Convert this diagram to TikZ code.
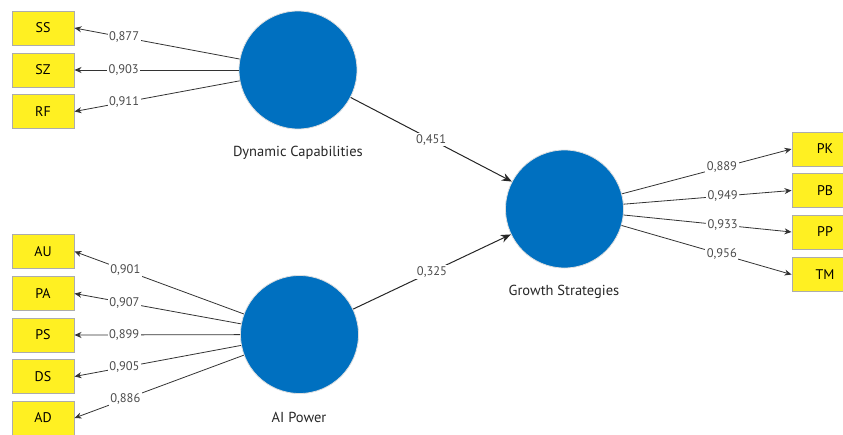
\documentclass[tikz,border=0pt]{standalone}
\usepackage{fontspec}
\setmainfont{PT Sans}
\usetikzlibrary{arrows.meta}
\definecolor{lvblue}{HTML}{0070C0}
\definecolor{indyellow}{HTML}{FFF022}
\begin{document}
\begin{tikzpicture}[x=1pt,y=-1pt,
  latent/.style={circle,fill=lvblue,draw=gray!25,line width=0.8pt,minimum size=118pt,inner sep=0pt},
  indbox/.style={rectangle,fill=indyellow,draw=gray!65,line width=1pt,minimum width=62pt,minimum height=34pt,inner sep=0pt,font=\fontsize{14}{16}\selectfont},
  rindbox/.style={indbox,minimum width=66pt},
  loadarrow/.style={draw=black!80,line width=0.8pt,-{Stealth[length=7pt,width=6pt]}},
  structarrow/.style={draw=black!85,line width=1pt,-{Stealth[length=10pt,width=8pt]}},
  coef/.style={fill=white,inner sep=1.5pt,font=\fontsize{12.5}{14}\selectfont,text=black!70},
  lvlabel/.style={font=\fontsize{14.5}{16}\selectfont,text=black!85}]
\useasboundingbox (0,0) rectangle (843,434);
% latent variables
\node[latent] (dc) at (298,70) {};
\node[latent] (ai) at (299.5,334.5) {};
\node[latent] (gs) at (564.5,209) {};
\node[lvlabel] (dcl) at (298,153) {Dynamic Capabilities};
\node[lvlabel] (ail) at (299,417) {AI Power};
\node[lvlabel] (gsl) at (564,292) {Growth Strategies};
% indicators left top
\node[indbox] (ss) at (43,28) {SS};
\node[indbox] (sz) at (43,70) {SZ};
\node[indbox] (rf) at (43,111.5) {RF};
% indicators left bottom
\node[indbox] (au) at (43,251.5) {AU};
\node[indbox] (pa) at (43,293.5) {PA};
\node[indbox] (ps) at (43,335) {PS};
\node[indbox] (ds) at (43,376.5) {DS};
\node[indbox] (ad) at (43,418) {AD};
% indicators right
\node[rindbox] (pk) at (825,149) {PK};
\node[rindbox] (pb) at (825,190.5) {PB};
\node[rindbox] (pp) at (825,232) {PP};
\node[rindbox] (tm) at (825,274.5) {TM};
% loadings
\draw[loadarrow] (dc) -- node[coef,pos=0.7] {0,877} (ss.east);
\draw[loadarrow] (dc) -- node[coef,pos=0.7] {0,903} (sz.east);
\draw[loadarrow] (dc) -- node[coef,pos=0.7] {0,911} (rf.east);
\draw[loadarrow] (ai) -- node[coef,pos=0.7] {0,901} (au.east);
\draw[loadarrow] (ai) -- node[coef,pos=0.7] {0,907} (pa.east);
\draw[loadarrow] (ai) -- node[coef,pos=0.7] {0,899} (ps.east);
\draw[loadarrow] (ai) -- node[coef,pos=0.7] {0,905} (ds.east);
\draw[loadarrow] (ai) -- node[coef,pos=0.7] {0,886} (ad.east);
\draw[loadarrow] (gs) -- node[coef,pos=0.59] {0,889} (pk.west);
\draw[loadarrow] (gs) -- node[coef,pos=0.59] {0,949} (pb.west);
\draw[loadarrow] (gs) -- node[coef,pos=0.59] {0,933} (pp.west);
\draw[loadarrow] (gs) -- node[coef,pos=0.59] {0,956} (tm.west);
% structural paths
\draw[structarrow] (dc) -- node[coef] {0,451} (gs);
\draw[structarrow] (ai) -- node[coef] {0,325} (gs);
\end{tikzpicture}
\end{document}
